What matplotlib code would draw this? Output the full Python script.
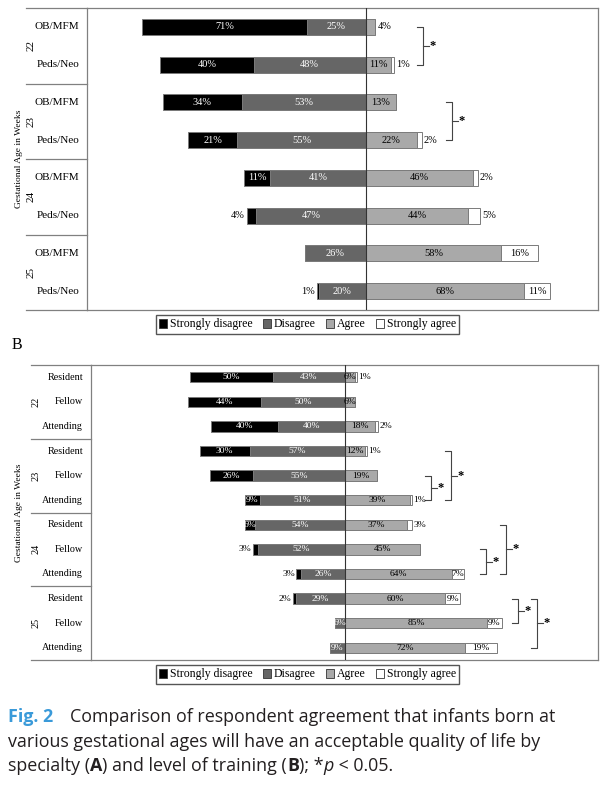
import matplotlib
matplotlib.use("Agg")
import matplotlib.pyplot as plt
from matplotlib.patches import Patch
from matplotlib.offsetbox import TextArea, HPacker, AnchoredOffsetbox

# Data: panel A (specialty)
weeks = ["22", "23", "24", "25"]
specialty = ["OB/MFM", "Peds/Neo"]
sd_a = [71, 40, 34, 21, 11, 4, 0, 1]
d_a = [25, 48, 53, 55, 41, 47, 26, 20]
ag_a = [4, 11, 13, 22, 46, 44, 58, 68]
sa_a = [0, 1, 0, 2, 2, 5, 16, 11]

# Data: panel B (level of training)
training = ["Resident", "Fellow", "Attending"]
sd_b = [50, 44, 40, 30, 26, 9, 6, 3, 3, 2, 0, 0]
d_b = [43, 50, 40, 57, 55, 51, 54, 52, 26, 29, 6, 9]
ag_b = [6, 6, 18, 12, 19, 39, 37, 45, 64, 60, 85, 72]
sa_b = [1, 0, 2, 1, 0, 1, 3, 0, 7, 9, 9, 19]

legend_labels = ["Strongly disagree", "Disagree", "Agree", "Strongly agree"]

# significant comparisons (first row, last row)
sig_a = [(0, 1), (2, 3)]
sig_b = [(4, 5), (3, 5), (7, 8), (6, 8), (9, 10), (9, 11)]

colors = ["#000000", "#666666", "#a9a9a9", "#ffffff"]
txt_colors = ["white", "white", "black", "black"]
serif = "Liberation Serif"
plt.rcParams["font.family"] = serif

W, H = 611, 786
fig = plt.figure(figsize=(W / 100, H / 100), dpi=100)


def px_axes(x0, x1, y0, y1):
    return fig.add_axes([x0 / W, 1 - y1 / H, (x1 - x0) / W, (y1 - y0) / H])


def draw_panel(ax, sd, d, ag, sa, groups, cats, xlim, sig, sig_x, fs, lfs, outer):
    n = len(sd)
    rows = list(range(n))
    ax.set_xlim(*xlim)
    ax.set_ylim(n - 0.5, -0.5)
    h = 0.42
    lefts = [-(a + b) for a, b in zip(sd, d)]
    segs = [sd, d, ag, sa]
    starts = [lefts,
              [l + a for l, a in zip(lefts, sd)],
              [0] * n,
              list(ag)]
    for k in range(4):
        ax.barh(rows, segs[k], left=starts[k], height=h, color=colors[k],
                edgecolor="#7a7a7a", linewidth=0.7, zorder=2)
    ax.axvline(0, color="#333333", lw=0.8, zorder=3)

    # value labels
    for i in rows:
        end = ag[i] + sa[i]
        for k in range(4):
            v = segs[k][i]
            if v == 0:
                continue
            if v > 5:
                ax.text(starts[k][i] + v / 2, i, f"{v}%", ha="center", va="center",
                        color=txt_colors[k], fontsize=fs, zorder=4)
            elif k == 0:
                ax.text(lefts[i] - 1, i, f"{v}%", ha="right", va="center",
                        fontsize=fs, zorder=4)
            elif k == 1:
                ax.text(starts[k][i] + v / 2, i, f"{v}%", ha="center", va="center",
                        color="white", fontsize=fs, zorder=4)
            else:
                ax.text(end + 1, i, f"{v}%", ha="left", va="center",
                        fontsize=fs, zorder=4)

    # frame
    for s in ["top", "bottom", "left", "right"]:
        ax.spines[s].set_color("#808080")
        ax.spines[s].set_linewidth(0.9)
    ax.set_xticks([])
    ax.set_yticks([])
    tr = ax.get_yaxis_transform()
    per = len(cats)
    for g in range(len(groups) + 1):
        yb = g * per - 0.5
        ax.plot([outer, 0], [yb, yb], transform=tr, color="#808080",
                lw=0.9, clip_on=False)
    for g, name in enumerate(groups):
        ax.text(outer + 0.009, g * per + (per - 1) / 2, name, transform=tr,
                rotation=90, ha="center", va="center", fontsize=lfs)
        for j, c in enumerate(cats):
            ax.text(-0.0157, g * per + j, c, transform=tr, ha="right",
                    va="center", fontsize=lfs)

    # significance brackets
    hook = (xlim[1] - xlim[0]) * 6 / ax.bbox.width * fig.dpi / 100
    for (r0, r1), x in zip(sig, sig_x):
        ax.plot([x - hook, x, x, x - hook], [r0, r0, r1, r1], color="#444444",
                lw=0.8, clip_on=False)
        ym = (r0 + r1) / 2
        ax.plot([x, x + hook], [ym, ym], color="#444444", lw=0.8, clip_on=False)
        ax.text(x + hook * 1.1, ym, "*", ha="left", va="center",
                fontsize=9, fontweight="bold")


ax_a = px_axes(87, 598, 8, 310)
draw_panel(ax_a, sd_a, d_a, ag_a, sa_a, weeks, specialty, (-119.5, 99.6),
           sig_a, [24.4, 37.0], 7.5, 8, -0.119)

ax_b = px_axes(91, 598, 365, 660)
draw_panel(ax_b, sd_b, d_b, ag_b, sa_b, weeks, training, (-152, 151.5),
           sig_b, [51.5, 63.5, 84.4, 96.4, 103.6, 115.0], 6.8, 7.3, -0.118)

# y-axis titles
fig.text(19 / W, 1 - 159 / H, "Gestational Age in Weeks", rotation=90,
         ha="center", va="center", fontsize=6.8)
fig.text(19 / W, 1 - 512.5 / H, "Gestational Age in Weeks", rotation=90,
         ha="center", va="center", fontsize=6.8)
fig.text(12 / W, 1 - 345 / H, "B", ha="left", va="center", fontsize=11.5)

# legends
handles = [Patch(facecolor=c, edgecolor="#333333", linewidth=0.6) for c in colors]
for yc in [324.5, 674.5]:
    fig.legend(handles, legend_labels, loc="center", ncol=4,
               bbox_to_anchor=(307.5 / W, 1 - yc / H), fontsize=8.5,
               handlelength=0.7, handleheight=0.7, handletextpad=0.2,
               columnspacing=0.9, fancybox=False, edgecolor="#555555",
               framealpha=1, borderpad=0.3)

# caption
cap = "Open Sans"
fsz = 12.9
norm = dict(family=cap, size=fsz, color="#231f20")
bold = dict(family=cap, size=fsz, color="#231f20", fontweight="bold")
ital = dict(family=cap, size=fsz, color="#231f20", fontstyle="italic")
blue = dict(family=cap, size=fsz, color="#3a9ad9", fontweight="bold")
lines = [
    [("Fig. 2", blue), ("Comparison of respondent agreement that infants born at", norm)],
    [("various gestational ages will have an acceptable quality of life by", norm)],
    [("specialty (", norm), ("A", bold), (") and level of training (", norm),
     ("B", bold), ("); *", norm), ("p", ital), (" < 0.05.", norm)],
]
for yc, parts, sep in zip([717, 742, 766], lines, [12, 0, 0]):
    box = HPacker(children=[TextArea(t, textprops=p) for t, p in parts],
                  pad=0, sep=sep, align="baseline")
    anch = AnchoredOffsetbox(loc="center left", child=box, pad=0, borderpad=0,
                             frameon=False, bbox_to_anchor=(8 / W, 1 - yc / H),
                             bbox_transform=fig.transFigure)
    fig.add_artist(anch)

fig.savefig("out.png", dpi=100)
